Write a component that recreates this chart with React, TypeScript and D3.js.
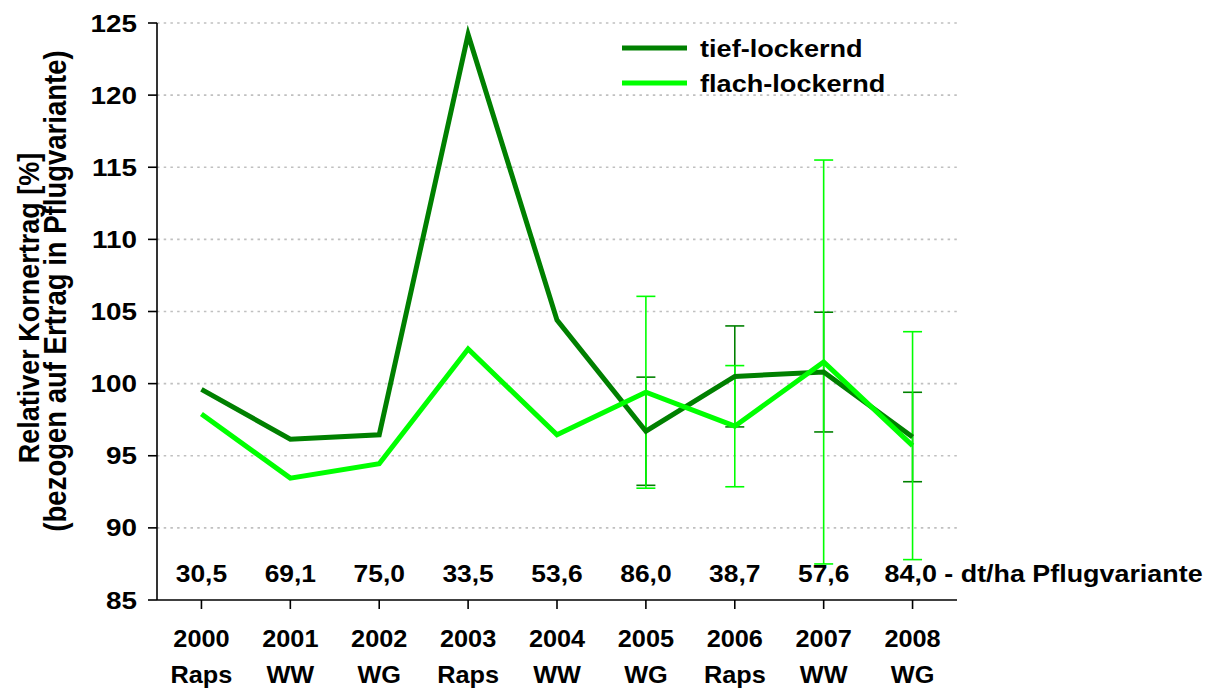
import React from "react";
import * as d3 from "d3";

const years = ["2000", "2001", "2002", "2003", "2004", "2005", "2006", "2007", "2008"];
const crops = ["Raps", "WW", "WG", "Raps", "WW", "WG", "Raps", "WW", "WG"];
const yieldLabels = ["30,5", "69,1", "75,0", "33,5", "53,6", "86,0", "38,7", "57,6", "84,0"];
const yieldSuffix = " - dt/ha Pflugvariante";

const tiefValues = [99.6, 96.15, 96.45, 124.2, 104.4, 96.7, 100.5, 100.8, 96.3];
const flachValues = [97.9, 93.45, 94.45, 102.4, 96.45, 99.4, 97.05, 101.5, 95.7];
const tiefErrors: (number | null)[] = [null, null, null, null, null, 3.75, 3.5, 4.15, 3.1];
const flachErrors: (number | null)[] = [null, null, null, null, null, 6.65, 4.2, 14.0, 7.9];

const yTicks = [85, 90, 95, 100, 105, 110, 115, 120, 125];
const seriesNames = ["tief-lockernd", "flach-lockernd"];
const yTitle1 = "Relativer Kornertrag [%]";
const yTitle2 = "(bezogen auf Ertrag in Pflugvariante)";

const DARK = "#008000";
const LIGHT = "#00ff00";
const FONT = "Arial, 'Liberation Sans', sans-serif";

function T(props: { x: number; y: number; anchor?: string; size?: number; sx?: number; children: React.ReactNode }) {
  const { x, y, anchor = "middle", size = 24, sx = 1.1, children } = props;
  return (
    <text
      transform={`translate(${x},${y}) scale(${sx},1)`}
      textAnchor={anchor as any}
      fontFamily={FONT}
      fontWeight="bold"
      fontSize={size}
      fill="#000"
    >
      {children}
    </text>
  );
}

export default function App() {
  const W = 1217;
  const H = 690;
  const left = 157;
  const right = 957;
  const top = 23;
  const bottom = 600;

  const x = d3.scaleBand<string>().domain(years).range([left, right]).padding(0);
  const cx = (i: number) => (x(years[i]) as number) + x.bandwidth() / 2;
  const y = d3.scaleLinear().domain([85, 125]).range([bottom, top]);

  const line = d3
    .line<number>()
    .x((_, i) => cx(i))
    .y((d) => y(d));

  const capW = 9.5;

  const errBars = (vals: number[], errs: (number | null)[], color: string) =>
    vals.map((v, i) => {
      const e = errs[i];
      if (e == null) return null;
      const x0 = cx(i);
      const y1 = y(v + e);
      const y2 = y(v - e);
      return (
        <g key={i} stroke={color} strokeWidth={1.6}>
          <line x1={x0} x2={x0} y1={y1} y2={y2} />
          <line x1={x0 - capW} x2={x0 + capW} y1={y1} y2={y1} />
          <line x1={x0 - capW} x2={x0 + capW} y1={y2} y2={y2} />
        </g>
      );
    });

  return (
    <svg width={W} height={H} style={{ position: "absolute", left: 0, top: 0, background: "#fff" }}>
      <rect x={0} y={0} width={W} height={H} fill="#fff" />
      {/* gridlines */}
      {yTicks
        .filter((t) => t !== 85)
        .map((t) => (
          <line
            key={t}
            x1={left}
            x2={right + 2}
            y1={y(t)}
            y2={y(t)}
            stroke="#c0c0c0"
            strokeWidth={1.6}
            strokeDasharray="2.5,4.2"
          />
        ))}
      {/* axes */}
      <line x1={left} x2={left} y1={top} y2={bottom} stroke="#000" strokeWidth={1.6} />
      <line x1={left} x2={right} y1={bottom} y2={bottom} stroke="#000" strokeWidth={1.6} />
      {yTicks.map((t) => (
        <g key={t}>
          <line x1={left - 9} x2={left} y1={y(t)} y2={y(t)} stroke="#000" strokeWidth={1.6} />
          <T x={137} y={y(t) + 8.5} anchor="end" size={24} sx={1.16}>
            {t}
          </T>
        </g>
      ))}
      {years.map((yr, i) => (
        <g key={yr}>
          <line x1={cx(i)} x2={cx(i)} y1={bottom} y2={bottom + 9} stroke="#000" strokeWidth={1.6} />
          <T x={cx(i)} y={647} size={23} sx={1.1}>
            {yr}
          </T>
          <T x={cx(i)} y={683} size={23} sx={1.1}>
            {crops[i]}
          </T>
        </g>
      ))}
      {/* yield labels */}
      {yieldLabels.map((l, i) =>
        i < yieldLabels.length - 1 ? (
          <T key={i} x={cx(i)} y={582} size={24} sx={1.1}>
            {l}
          </T>
        ) : (
          <T key={i} x={cx(i) - 28} y={582} anchor="start" size={24} sx={1.12}>
            {l + yieldSuffix}
          </T>
        )
      )}
      {/* y title */}
      <g transform={`translate(39,${308}) scale(1.12,1) rotate(-90)`}>
        <text textAnchor="middle" fontFamily={FONT} fontWeight="bold" fontSize={27} fill="#000">
          {yTitle1}
        </text>
      </g>
      <g transform={`translate(66,${291}) scale(1.12,1) rotate(-90)`}>
        <text textAnchor="middle" fontFamily={FONT} fontWeight="bold" fontSize={27.5} fill="#000">
          {yTitle2}
        </text>
      </g>
      {/* error bars */}
      {errBars(tiefValues, tiefErrors, DARK)}
      {errBars(flachValues, flachErrors, LIGHT)}
      {/* lines */}
      <path d={line(tiefValues) || ""} fill="none" stroke={DARK} strokeWidth={5} strokeLinejoin="miter" />
      <path d={line(flachValues) || ""} fill="none" stroke={LIGHT} strokeWidth={5} strokeLinejoin="miter" />
      {/* legend */}
      {seriesNames.map((n, i) => (
        <g key={n}>
          <line x1={622} x2={687} y1={48 + i * 35} y2={48 + i * 35} stroke={i === 0 ? DARK : LIGHT} strokeWidth={5} />
          <T x={700} y={57 + i * 35} anchor="start" size={24} sx={1.13}>
            {n}
          </T>
        </g>
      ))}
    </svg>
  );
}
